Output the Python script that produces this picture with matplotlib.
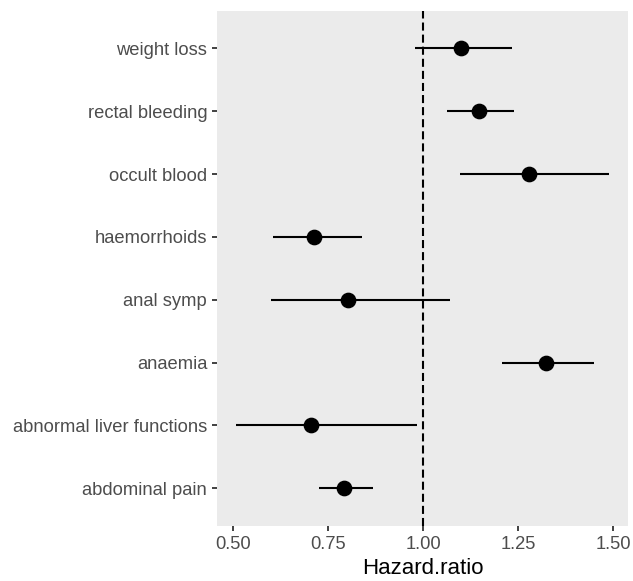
import matplotlib
matplotlib.use("Agg")
import matplotlib.pyplot as plt

plt.rcParams['font.family'] = ['Liberation Sans', 'DejaVu Sans']
plt.rcParams['lines.scale_dashes'] = False

# Hazard ratios with 95% confidence limits, bottom to top
symptoms = ["abdominal pain", "abnormal liver functions", "anaemia", "anal symp",
            "haemorrhoids", "occult blood", "rectal bleeding", "weight loss"]
hazard_ratio = [0.791, 0.705, 1.323, 0.801, 0.712, 1.278, 1.146, 1.099]
ci_lower = [0.726, 0.506, 1.207, 0.600, 0.604, 1.097, 1.062, 0.978]
ci_upper = [0.867, 0.984, 1.450, 1.070, 0.839, 1.488, 1.238, 1.234]
x_ticks = [0.50, 0.75, 1.00, 1.25, 1.50]
x_ticklabels = ["0.50", "0.75", "1.00", "1.25", "1.50"]

W, H = 633, 581
fig = plt.figure(figsize=(W / 100, H / 100), dpi=100)
ax = fig.add_axes([217 / W, (H - 526) / H, (628 - 217) / W, (526 - 10.7) / H])
ax.set_facecolor("#EBEBEB")

ypos = list(range(1, len(symptoms) + 1))
ax.axvline(1.0, color="black", lw=1.5, ls=(0, (5.8, 2.9)), zorder=1)
ax.hlines(ypos, ci_lower, ci_upper, color="black", lw=1.5, zorder=2)
ax.plot(hazard_ratio, ypos, "o", color="black", ms=10.3, zorder=3)

ax.set_xlim(0.457, 1.5386)
ax.set_ylim(0.4, len(symptoms) + 0.6)
ax.set_xticks(x_ticks)
ax.set_xticklabels(x_ticklabels)
ax.set_yticks(ypos)
ax.set_yticklabels(symptoms)

for s in ax.spines.values():
    s.set_visible(False)
ax.tick_params(axis="both", length=3.6, width=1.3, color="#333333",
               labelcolor="#4D4D4D", labelsize=13.2, pad=3.5)
ax.set_xlabel("Hazard.ratio", fontsize=16, color="black", labelpad=4)

fig.savefig("out.png", dpi=100, facecolor="white")
